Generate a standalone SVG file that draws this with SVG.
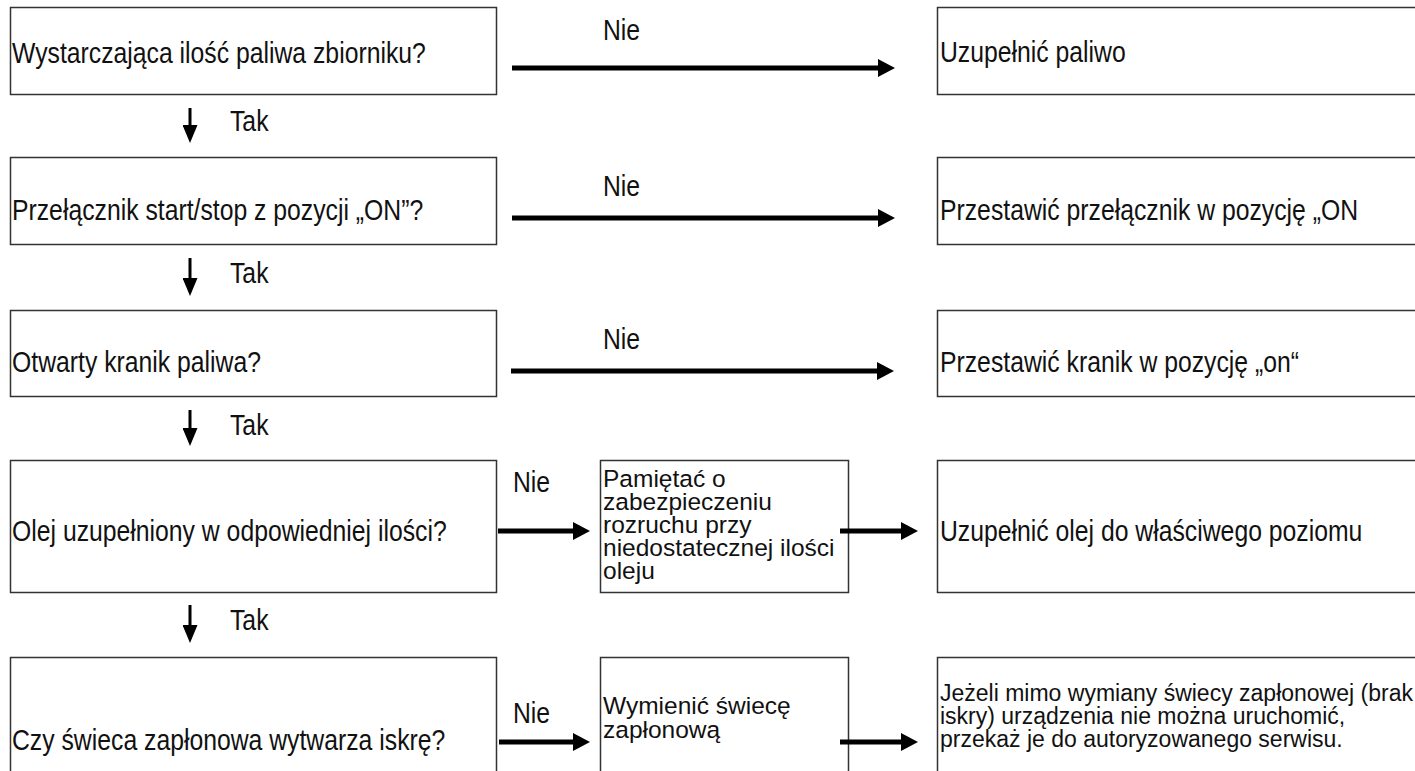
<svg xmlns="http://www.w3.org/2000/svg" width="1415" height="771" viewBox="0 0 1415 771">
<style>
.box{fill:#fff;stroke:#333;stroke-width:1.5}
.t{font-family:"Liberation Sans",Arial,sans-serif;font-size:30px;fill:#111}
.m{font-family:"Liberation Sans",Arial,sans-serif;font-size:24.5px;fill:#111}
.s{font-family:"Liberation Sans",Arial,sans-serif;font-size:23px;fill:#111}
.h{stroke:#000;stroke-width:5;fill:none}
.v{stroke:#000;stroke-width:3;fill:none}
</style>
<defs>
<marker id="ah" markerUnits="userSpaceOnUse" markerWidth="17" markerHeight="18" viewBox="0 0 17 18" refX="3" refY="9" orient="auto">
<path d="M0,0 L17,9 L0,18 z" fill="#000"/>
</marker>
<marker id="av" markerUnits="userSpaceOnUse" markerWidth="18" markerHeight="15" viewBox="0 0 18 15" refX="3" refY="7.5" orient="auto">
<path d="M0,0 L18,7.5 L0,15 z" fill="#000"/>
</marker>
</defs>
<rect width="1415" height="771" fill="#fff"/>

<g id="n1"><rect class="box" x="10.5" y="7.5" width="486" height="87"/><text class="t" transform="translate(12,63) scale(0.825,1)">Wystarczająca ilość paliwa zbiorniku?</text></g>
<g id="r1"><rect class="box" x="937.5" y="7.5" width="490" height="87"/><text class="t" transform="translate(940,62) scale(0.825,1)">Uzupełnić paliwo</text></g>

<g id="n2"><rect class="box" x="10.5" y="157.5" width="486" height="87"/><text class="t" transform="translate(12,220) scale(0.825,1)">Przełącznik start/stop z pozycji „ON”?</text></g>
<g id="r2"><rect class="box" x="937.5" y="157.5" width="490" height="87"/><text class="t" transform="translate(940,220) scale(0.825,1)">Przestawić przełącznik w pozycję „ON</text></g>

<g id="n3"><rect class="box" x="10.5" y="310.5" width="486" height="86"/><text class="t" transform="translate(12,372) scale(0.825,1)">Otwarty kranik paliwa?</text></g>
<g id="r3"><rect class="box" x="937.5" y="310.5" width="490" height="86"/><text class="t" transform="translate(940,372) scale(0.825,1)">Przestawić kranik w pozycję „on“</text></g>

<g id="n4"><rect class="box" x="10.5" y="460.5" width="486" height="132"/><text class="t" transform="translate(12,541) scale(0.825,1)">Olej uzupełniony w odpowiedniej ilości?</text></g>
<g id="m4"><rect class="box" x="600.5" y="460.5" width="248" height="132"/>
<text class="m" x="603" y="487">Pamiętać o</text>
<text class="m" x="603" y="510">zabezpieczeniu</text>
<text class="m" x="603" y="533">rozruchu przy</text>
<text class="m" x="603" y="556">niedostatecznej ilości</text>
<text class="m" x="603" y="579">oleju</text></g>
<g id="r4"><rect class="box" x="937.5" y="460.5" width="490" height="132"/><text class="t" transform="translate(940,541) scale(0.825,1)">Uzupełnić olej do właściwego poziomu</text></g>

<g id="n5"><rect class="box" x="10.5" y="657.5" width="486" height="130"/><text class="t" transform="translate(12,750) scale(0.825,1)">Czy świeca zapłonowa wytwarza iskrę?</text></g>
<g id="m5"><rect class="box" x="600.5" y="657.5" width="248" height="130"/>
<text class="m" x="603" y="714">Wymienić świecę</text>
<text class="m" x="603" y="738">zapłonową</text></g>
<g id="r5"><rect class="box" x="937.5" y="657.5" width="490" height="130"/>
<text class="s" x="940" y="701">Jeżeli mimo wymiany świecy zapłonowej (brak</text>
<text class="s" x="940" y="724">iskry) urządzenia nie można uruchomić,</text>
<text class="s" x="940" y="747">przekaż je do autoryzowanego serwisu.</text></g>

<g id="connectors">
<line class="h" x1="512" y1="68" x2="881" y2="68" marker-end="url(#ah)"/>
<line class="h" x1="512" y1="218" x2="881" y2="218" marker-end="url(#ah)"/>
<line class="h" x1="511" y1="371" x2="880" y2="371" marker-end="url(#ah)"/>
<line class="h" x1="498" y1="531" x2="576" y2="531" marker-end="url(#ah)"/>
<line class="h" x1="840" y1="531" x2="904" y2="531" marker-end="url(#ah)"/>
<line class="h" x1="499" y1="742" x2="576" y2="742" marker-end="url(#ah)"/>
<line class="h" x1="840" y1="742" x2="904" y2="742" marker-end="url(#ah)"/>
<line class="v" x1="190" y1="108" x2="190" y2="128" marker-end="url(#av)"/>
<line class="v" x1="190" y1="258" x2="190" y2="281" marker-end="url(#av)"/>
<line class="v" x1="190" y1="410" x2="190" y2="431" marker-end="url(#av)"/>
<line class="v" x1="190" y1="605" x2="190" y2="628" marker-end="url(#av)"/>
<text class="t" transform="translate(603,40) scale(0.825,1)">Nie</text>
<text class="t" transform="translate(603,196) scale(0.825,1)">Nie</text>
<text class="t" transform="translate(603,349) scale(0.825,1)">Nie</text>
<text class="t" transform="translate(513,492) scale(0.825,1)">Nie</text>
<text class="t" transform="translate(513,723) scale(0.825,1)">Nie</text>
<text class="t" transform="translate(230,131) scale(0.825,1)">Tak</text>
<text class="t" transform="translate(230,283) scale(0.825,1)">Tak</text>
<text class="t" transform="translate(230,435) scale(0.825,1)">Tak</text>
<text class="t" transform="translate(230,630) scale(0.825,1)">Tak</text>
</g>
</svg>
